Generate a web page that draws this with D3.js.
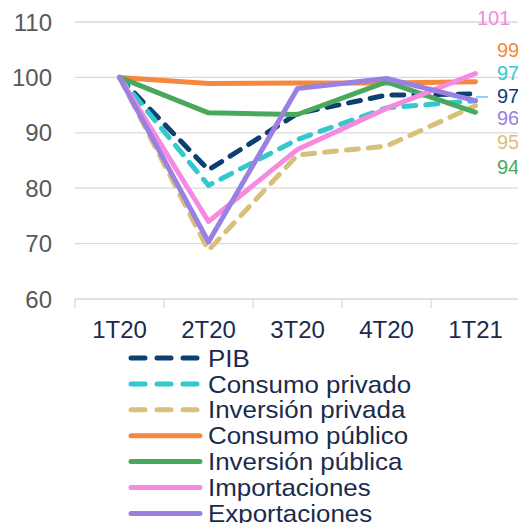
<!DOCTYPE html>
<html>
<head>
<meta charset="utf-8">
<script src="https://cdn.jsdelivr.net/npm/d3@7"></script>
<style>
  body { margin: 0; background: #fff; overflow: hidden; }
  svg { display: block; font-family: "Liberation Sans", Arial, sans-serif; }
</style>
</head>
<body>
<svg id="svg"></svg>
<script>

const width = 518;
const height = 523;

// data
const quarters = ["1T20", "2T20", "3T20", "4T20", "1T21"];
const yTicks = [60, 70, 80, 90, 100, 110];

const pib = [100, 83.3, 93.5, 96.8, 97.0];
const consumoPrivado = [100, 80.5, 88.8, 94.5, 95.8];
const inversionPrivada = [100, 68.8, 86.0, 87.6, 94.9];
const consumoPublico = [100, 98.9, 99.0, 99.0, 99.2];
const inversionPublica = [100, 93.6, 93.3, 99.2, 93.7];
const importaciones = [100, 74.0, 87.0, 94.4, 100.7];
const exportaciones = [100, 70.3, 98.0, 99.8, 95.8];

const seriesNames = ["PIB", "Consumo privado", "Inversión privada", "Consumo público",
                     "Inversión pública", "Importaciones", "Exportaciones"];
const seriesValues = [pib, consumoPrivado, inversionPrivada, consumoPublico,
                      inversionPublica, importaciones, exportaciones];
const seriesColors = ["#0d3f73", "#33c9cc", "#d8bf7a", "#f5883c", "#4aa85c", "#f58ae0", "#9a80e0"];
const seriesDashed = [true, true, true, false, false, false, false];

// end labels as printed on the right
const endLabels = ["101", "99", "97", "97", "96", "95", "94"];
const endLabelColors = ["#f58ae0", "#f5883c", "#33c9cc", "#0d3f73", "#9a80e0", "#d8bf7a", "#4aa85c"];

const margin = {left: 75, right: 0, top: 22, bottom: 224};

const svg = d3.select("#svg")
  .attr("width", width)
  .attr("height", height);

const x = d3.scaleBand()
  .domain(quarters)
  .range([margin.left, margin.left + 89 * 5]);

const y = d3.scaleLinear()
  .domain([60, 110])
  .range([299, 22]);

// gridlines
svg.append("g")
  .selectAll("line")
  .data(yTicks.filter(d => d > 60))
  .enter().append("line")
  .attr("x1", margin.left)
  .attr("x2", width)
  .attr("y1", d => y(d))
  .attr("y2", d => y(d))
  .attr("stroke", "#d9d9d9")
  .attr("stroke-width", 1.3);

// y labels
svg.append("g")
  .selectAll("text")
  .data(yTicks)
  .enter().append("text")
  .attr("x", 52)
  .attr("y", d => y(d))
  .attr("dy", "0.36em")
  .attr("text-anchor", "end")
  .attr("fill", "#595959")
  .style("font-size", "24px")
  .text(d => d);

// x axis
const xAxis = svg.append("g")
  .attr("transform", `translate(0,${y(60)})`)
  .call(d3.axisBottom(x).tickSize(0).tickPadding(22));
xAxis.select(".domain").remove();
xAxis.selectAll("text")
  .attr("fill", "#1a2b4c")
  .style("font-size", "24px")
  .style("font-family", "Liberation Sans, Arial, sans-serif");

svg.append("line")
  .attr("x1", margin.left).attr("x2", width)
  .attr("y1", y(60)).attr("y2", y(60))
  .attr("stroke", "#d9d9d9").attr("stroke-width", 1.3);

svg.append("g")
  .selectAll("line")
  .data(quarters)
  .enter().append("line")
  .attr("x1", d => x(d)).attr("x2", d => x(d))
  .attr("y1", y(60)).attr("y2", y(60) + 9)
  .attr("stroke", "#d9d9d9").attr("stroke-width", 1.3);

// series lines
const line = d3.line()
  .x((d, i) => x(quarters[i]) + x.bandwidth() / 2)
  .y(d => y(d));

svg.append("g")
  .selectAll("path")
  .data(seriesValues)
  .enter().append("path")
  .attr("d", line)
  .attr("fill", "none")
  .attr("stroke", (d, i) => seriesColors[i])
  .attr("stroke-width", 5)
  .attr("stroke-linejoin", "round")
  .attr("stroke-linecap", "round")
  .attr("stroke-dasharray", (d, i) => seriesDashed[i] ? "12 10" : null);

// end labels
const labelY = [18, 50, 73, 96, 118, 142, 167];
svg.append("g")
  .selectAll("text")
  .data(endLabels)
  .enter().append("text")
  .attr("x", (d, i) => i === 0 ? 477 : 497)
  .attr("y", (d, i) => labelY[i])
  .attr("dy", "0.36em")
  .attr("fill", (d, i) => endLabelColors[i])
  .style("font-size", "20px")
  .text(d => d);

svg.append("line")
  .attr("x1", 476).attr("x2", 488)
  .attr("y1", 97).attr("y2", 97)
  .attr("stroke", "#7fb8ee").attr("stroke-width", 1.5);

// legend
const legend = svg.append("g")
  .selectAll("g")
  .data(seriesNames)
  .enter().append("g")
  .attr("transform", (d, i) => `translate(0,${358 + i * 25.9})`);

legend.append("line")
  .attr("x1", 131).attr("x2", 200)
  .attr("y1", 0).attr("y2", 0)
  .attr("stroke", (d, i) => seriesColors[i])
  .attr("stroke-width", 5)
  .attr("stroke-linecap", "round")
  .attr("stroke-dasharray", (d, i) => seriesDashed[i] ? "14 12" : null);

legend.append("text")
  .attr("x", 208)
  .attr("y", 0)
  .attr("dy", "0.36em")
  .attr("fill", "#1a2b4c")
  .style("font-size", "24px")
  .attr("transform", "translate(208,0) scale(1.08,1) translate(-208,0)")
  .text(d => d);

</script>
</body>
</html>
